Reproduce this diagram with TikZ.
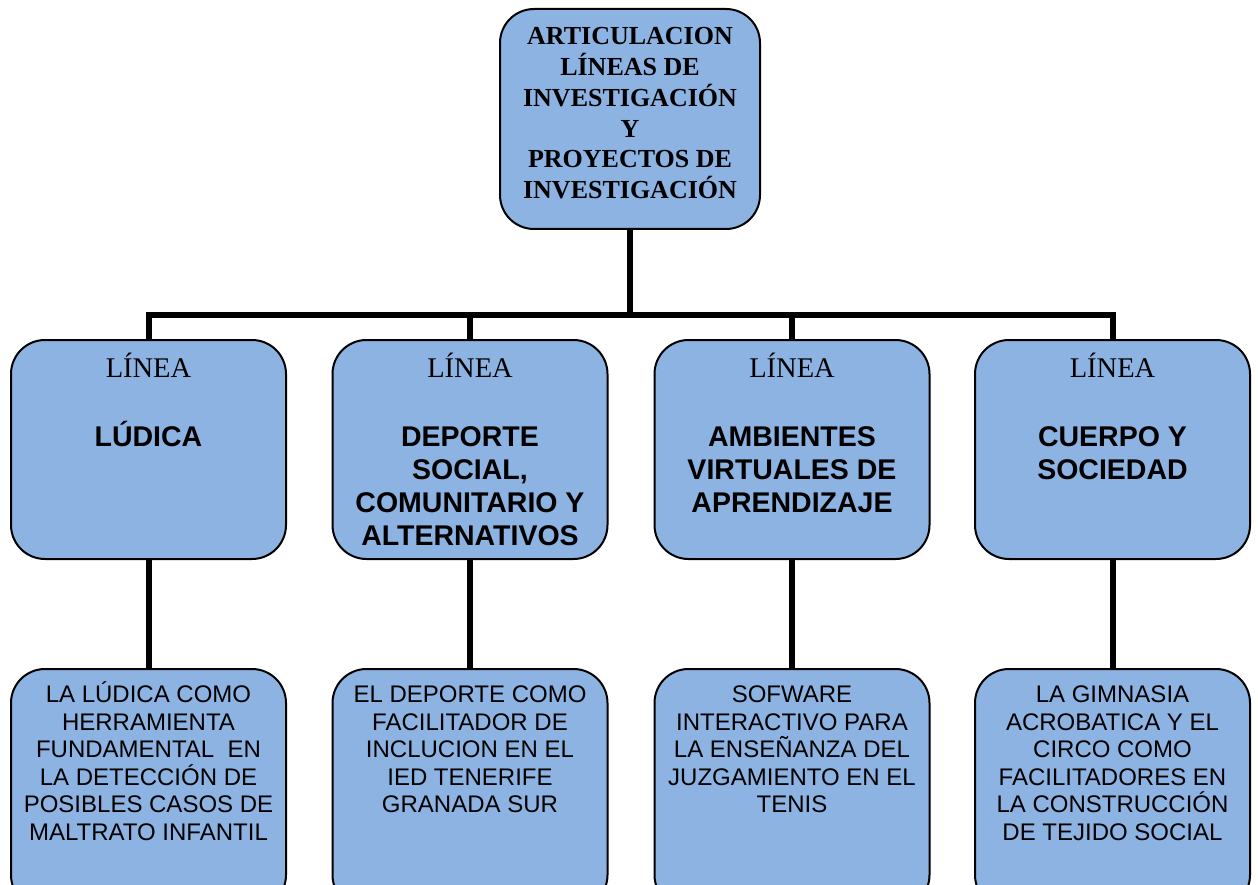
\documentclass[tikz,border=0pt]{standalone}
\usepackage{fontspec}
\setmainfont{Liberation Serif}
\setsansfont{Liberation Sans}
\definecolor{boxblue}{RGB}{141,179,226}
\tikzset{
  box/.style={draw=black, line width=2pt, fill=boxblue, rounded corners=34pt,
    minimum width=275pt, anchor=north, inner sep=0pt},
  conn/.style={line width=6pt},
  toptext/.style={font=\fontsize{26}{30.7}\selectfont\bfseries\rmfamily, align=center, anchor=base, inner sep=0pt},
  linea/.style={font=\fontsize{28.5}{33}\selectfont\rmfamily, anchor=base, inner sep=0pt},
  midtext/.style={font=\fontsize{28.5}{33}\selectfont\bfseries\sffamily, align=center, anchor=base, inner sep=0pt},
  bottext/.style={font=\fontsize{24}{27.5}\selectfont\sffamily, align=center, anchor=base, inner sep=0pt}
}
\begin{document}
\begin{tikzpicture}[x=1pt,y=-1pt]
\useasboundingbox (0,0) rectangle (1258,885);
\clip (0,0) rectangle (1258,885);
% top
\node[box, minimum width=260pt, minimum height=220pt] (top) at (630,8) {};
\node[toptext] (toptx) at (630,198.5) {ARTICULACION\\LÍNEAS DE\\INVESTIGACIÓN\\Y\\PROYECTOS DE\\INVESTIGACIÓN};
% middle boxes
\node[box, minimum height=219pt] (m1) at (148.5,339) {};
\node[box, minimum height=219pt] (m2) at (470,339) {};
\node[box, minimum height=219pt] (m3) at (792,339) {};
\node[box, minimum height=219pt] (m4) at (1112.5,339) {};
\node[linea] (l1) at (148.5,377) {LÍNEA};
\node[linea] (l2) at (470,377) {LÍNEA};
\node[linea] (l3) at (792,377) {LÍNEA};
\node[linea] (l4) at (1112.5,377) {LÍNEA};
\node[midtext] (t1) at (148.5,446) {LÚDICA};
\node[midtext] (t2) at (470,545) {DEPORTE\\SOCIAL,\\COMUNITARIO Y\\ALTERNATIVOS};
\node[midtext] (t3) at (792,512) {AMBIENTES\\VIRTUALES DE\\APRENDIZAJE};
\node[midtext] (t4) at (1112.5,479) {CUERPO Y\\SOCIEDAD};
% bottom boxes
\node[box, minimum height=240pt] (b1) at (148.5,668) {};
\node[box, minimum height=240pt] (b2) at (470,668) {};
\node[box, minimum height=240pt] (b3) at (792,668) {};
\node[box, minimum height=240pt] (b4) at (1112.5,668) {};
\node[bottext] (bt1) at (148.5,840) {LA LÚDICA COMO\\HERRAMIENTA\\FUNDAMENTAL\ \ EN\\LA DETECCIÓN DE\\POSIBLES CASOS DE\\MALTRATO INFANTIL};
\node[bottext] (bt2) at (470,812.5) {EL DEPORTE COMO\\FACILITADOR DE\\INCLUCION EN EL\\IED TENERIFE\\GRANADA SUR};
\node[bottext] (bt3) at (792,812.5) {SOFWARE\\INTERACTIVO PARA\\LA ENSEÑANZA DEL\\JUZGAMIENTO EN EL\\TENIS};
\node[bottext] (bt4) at (1112.5,840) {LA GIMNASIA\\ACROBATICA Y EL\\CIRCO COMO\\FACILITADORES EN\\LA CONSTRUCCIÓN\\DE TEJIDO SOCIAL};
% connectors
\coordinate (j) at (630,315);
\draw[conn] (top.south) -- (j);
\draw[conn] (m1.north) -- (m1.north |- j) -- (m4.north |- j) -- (m4.north);
\draw[conn] (m2.north |- j) -- (m2.north);
\draw[conn] (m3.north |- j) -- (m3.north);
\draw[conn] (m1.south) -- (b1.north);
\draw[conn] (m2.south) -- (b2.north);
\draw[conn] (m3.south) -- (b3.north);
\draw[conn] (m4.south) -- (b4.north);
\end{tikzpicture}
\end{document}
